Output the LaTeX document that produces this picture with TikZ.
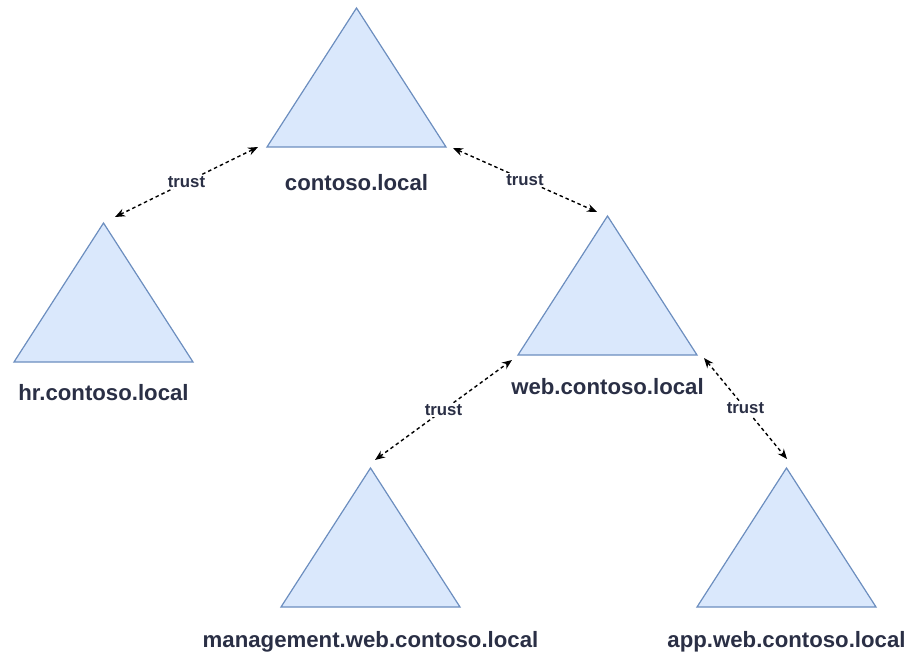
\documentclass[tikz,border=0pt]{standalone}
\usepackage{fontspec}
\setmainfont{Liberation Sans}
\usetikzlibrary{arrows.meta}
\definecolor{domfill}{HTML}{DAE8FC}
\definecolor{domline}{HTML}{6C8EBF}
\definecolor{domtext}{HTML}{2A2F45}
\begin{document}
\begin{tikzpicture}[x=1pt,y=-1pt,
  domtri/.style={draw=domline,fill=domfill,line width=1.2pt,line join=miter},
  domlabel/.style={anchor=base,inner sep=0pt,text=domtext,
    font=\fontsize{22.2}{25}\selectfont\bfseries},
  trustlink/.style={draw=black,line width=1.4pt,dash pattern=on 3.5pt off 3pt,
    {Stealth[length=10pt,width=8pt]}-{Stealth[length=10pt,width=8pt]}},
  trustlbl/.style={fill=white,inner sep=1.5pt,text=domtext,
    font=\fontsize{16.8}{19}\selectfont\bfseries}]
\useasboundingbox (0,0) rectangle (909,655);

% forest domains: apex coordinates, triangles 179 wide and 139 high
\coordinate (root) at (356.5,8);
\coordinate (hr)   at (103.5,223);
\coordinate (web)  at (607.5,216);
\coordinate (mgmt) at (370.5,468);
\coordinate (app)  at (786.5,468);

\foreach \d in {root,hr,web,mgmt,app}
  \draw[domtri] (\d) -- ++(89.5,139) -- ++(-179,0) -- cycle;

% domain names
\node[domlabel] (rootname) at (356.5,190) {contoso.local};
\node[domlabel] (hrname)   at (103.5,400) {hr.contoso.local};
\node[domlabel] (webname)  at (607.5,394) {web.contoso.local};
\node[domlabel] (mgmtname) at (370.5,647) {management.web.contoso.local};
\node[domlabel] (appname)  at (786.5,647) {app.web.contoso.local};

% connector ends beside the triangles
\coordinate (root-l) at (258,147);
\coordinate (root-r) at (453,148);
\coordinate (hr-top) at (115,217);
\coordinate (web-top) at (597,212);
\coordinate (web-l) at (512,360);
\coordinate (web-r) at (704,358);
\coordinate (mgmt-top) at (375,460);
\coordinate (app-top) at (787,459);

% two-way trusts
\draw[trustlink] (hr-top) -- node[trustlbl] (t1) {trust} (root-l);
\draw[trustlink] (root-r) -- node[trustlbl] (t2) {trust} (web-top);
\draw[trustlink] (mgmt-top) -- node[trustlbl] (t3) {trust} (web-l);
\draw[trustlink] (web-r) -- node[trustlbl] (t4) {trust} (app-top);
\end{tikzpicture}
\end{document}
